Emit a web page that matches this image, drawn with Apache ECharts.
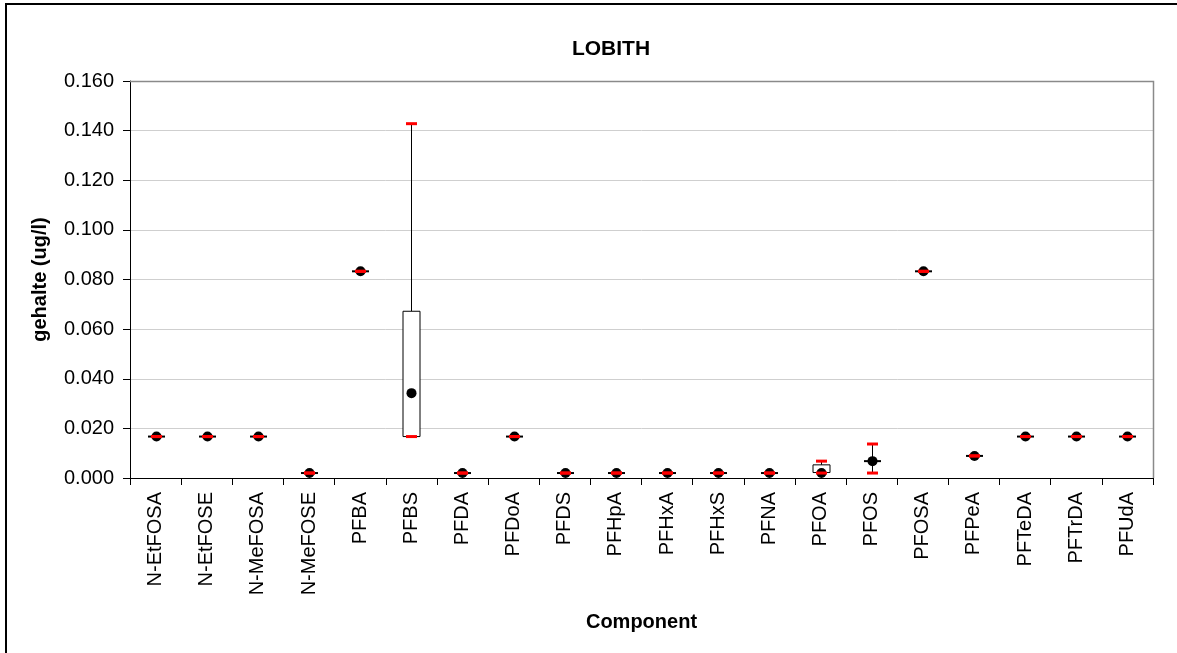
<!DOCTYPE html>
<html>
<head>
<meta charset="utf-8">
<title>LOBITH</title>
<script src="https://cdn.jsdelivr.net/npm/echarts@6/dist/echarts.min.js"></script>
<style>
  html, body { margin: 0; padding: 0; background: #fff; }
  #chart { width: 1177px; height: 653px; }
</style>
</head>
<body>
<div id="chart"></div>
<script>
// Components measured at the LOBITH station
const categories = ['N-EtFOSA', 'N-EtFOSE', 'N-MeFOSA', 'N-MeFOSE', 'PFBA', 'PFBS', 'PFDA', 'PFDoA',
  'PFDS', 'PFHpA', 'PFHxA', 'PFHxS', 'PFNA', 'PFOA', 'PFOS', 'PFOSA', 'PFPeA', 'PFTeDA', 'PFTrDA', 'PFUdA'];

// Box statistics per component (ug/l)
const minVals    = [0.0167, 0.0167, 0.0167, 0.002, 0.0833, 0.0167, 0.002, 0.0167, 0.002, 0.002, 0.002, 0.002, 0.002, 0.002,  0.002,  0.0833, 0.0089, 0.0167, 0.0167, 0.0167];
const q1Vals     = [0.0167, 0.0167, 0.0167, 0.002, 0.0833, 0.0167, 0.002, 0.0167, 0.002, 0.002, 0.002, 0.002, 0.002, 0.0022, 0.0068, 0.0833, 0.0089, 0.0167, 0.0167, 0.0167];
const medianVals = [0.0167, 0.0167, 0.0167, 0.002, 0.0833, 0.0342, 0.002, 0.0167, 0.002, 0.002, 0.002, 0.002, 0.002, 0.002,  0.0068, 0.0833, 0.0089, 0.0167, 0.0167, 0.0167];
const q3Vals     = [0.0167, 0.0167, 0.0167, 0.002, 0.0833, 0.0672, 0.002, 0.0167, 0.002, 0.002, 0.002, 0.002, 0.002, 0.0053, 0.0068, 0.0833, 0.0089, 0.0167, 0.0167, 0.0167];
const maxVals    = [0.0167, 0.0167, 0.0167, 0.002, 0.0833, 0.1428, 0.002, 0.0167, 0.002, 0.002, 0.002, 0.002, 0.002, 0.0068, 0.0137, 0.0833, 0.0089, 0.0167, 0.0167, 0.0167];

// Value axis ticks
const yTicks = [0, 0.02, 0.04, 0.06, 0.08, 0.10, 0.12, 0.14, 0.16];

const GRID = { left: 130, right: 24, top: 81, bottom: 175 };
const W = 1177, H = 653;
const FONT = '"Liberation Sans", Arial, sans-serif';

const boxData = categories.map((c, i) => [i, minVals[i], q1Vals[i], medianVals[i], q3Vals[i], maxVals[i]]);

function renderBox(params, api) {
  const i = api.value(0);
  const pMin = api.coord([i, api.value(1)]);
  const pQ1 = api.coord([i, api.value(2)]);
  const pMed = api.coord([i, api.value(3)]);
  const pQ3 = api.coord([i, api.value(4)]);
  const pMax = api.coord([i, api.value(5)]);
  const x = Math.round(pMed[0]) + 0.5;
  const boxW = 17, capW = 11, capH = 3, dotR = 5;
  const children = [];
  // whiskers
  children.push({ type: 'line', shape: { x1: x, y1: pQ3[1], x2: x, y2: pMax[1] },
    style: { stroke: '#000', lineWidth: 1 } });
  children.push({ type: 'line', shape: { x1: x, y1: pQ1[1], x2: x, y2: pMin[1] },
    style: { stroke: '#000', lineWidth: 1 } });
  // box between the quartiles
  const top = Math.min(pQ1[1], pQ3[1]);
  const h = Math.abs(pQ1[1] - pQ3[1]);
  if (h < 1) {
    children.push({ type: 'rect', shape: { x: x - boxW / 2, y: top - 1, width: boxW, height: 2 },
      style: { fill: '#000' } });
  } else {
    children.push({ type: 'rect', shape: { x: x - boxW / 2, y: top, width: boxW, height: h },
      style: { fill: '#fff', stroke: '#000', lineWidth: 1 } });
  }
  // median marker
  children.push({ type: 'circle', shape: { cx: x, cy: pMed[1], r: dotR }, style: { fill: '#000' } });
  // min / max caps
  children.push({ type: 'rect', shape: { x: x - capW / 2, y: pMax[1] - capH / 2, width: capW, height: capH },
    style: { fill: '#ff0000' } });
  children.push({ type: 'rect', shape: { x: x - capW / 2, y: pMin[1] - capH / 2, width: capW, height: capH },
    style: { fill: '#ff0000' } });
  return { type: 'group', children };
}

const chart = echarts.init(document.getElementById('chart'), null, { renderer: 'canvas' });
chart.setOption({
  animation: false,
  backgroundColor: '#fff',
  textStyle: { fontFamily: FONT },
  title: {
    text: 'LOBITH',
    left: 606,
    textAlign: 'center',
    top: 34,
    textStyle: { fontFamily: FONT, fontSize: 21, fontWeight: 'bold', color: '#000' }
  },
  grid: GRID,
  xAxis: {
    type: 'category',
    data: categories,
    boundaryGap: true,
    name: 'Component',
    nameLocation: 'middle',
    nameGap: 134,
    nameTextStyle: { fontFamily: FONT, fontSize: 20, fontWeight: 'bold', color: '#000' },
    axisLine: { lineStyle: { color: '#000', width: 1 } },
    axisTick: { show: true, length: 7, lineStyle: { color: '#000' } },
    axisLabel: { rotate: 90, margin: 14, interval: 0, fontFamily: FONT, fontSize: 20, color: '#000' },
    splitLine: { show: false }
  },
  yAxis: {
    type: 'value',
    min: yTicks[0],
    max: yTicks[yTicks.length - 1],
    interval: yTicks[1] - yTicks[0],
    name: 'gehalte (ug/l)',
    nameLocation: 'middle',
    nameGap: 80,
    nameTextStyle: { fontFamily: FONT, fontSize: 20, fontWeight: 'bold', color: '#000' },
    axisLine: { show: true, lineStyle: { color: '#000', width: 1 } },
    axisTick: { show: true, length: 7, lineStyle: { color: '#000' } },
    axisLabel: { margin: 16, fontFamily: FONT, fontSize: 20, color: '#000',
      formatter: v => v.toFixed(3) },
    splitLine: { show: true, lineStyle: { color: '#cfcfcf', width: 1 } }
  },
  graphic: [
    // chart area frame
    { type: 'rect', z: 100, silent: true,
      shape: { x: 6, y: 4, width: W + 20, height: H + 20 },
      style: { fill: 'none', stroke: '#000', lineWidth: 2 } },
    // plot area frame (top and right)
    { type: 'polyline', z: 100, silent: true,
      shape: { points: [[GRID.left, GRID.top + 0.5], [W - GRID.right + 0.5, GRID.top + 0.5], [W - GRID.right + 0.5, H - GRID.bottom]] },
      style: { fill: 'none', stroke: '#8a8a8a', lineWidth: 1.5 } }
  ],
  series: [{
    type: 'custom',
    renderItem: renderBox,
    encode: { x: 0, y: [1, 2, 3, 4, 5] },
    data: boxData,
    z: 10
  }]
});
</script>
</body>
</html>
